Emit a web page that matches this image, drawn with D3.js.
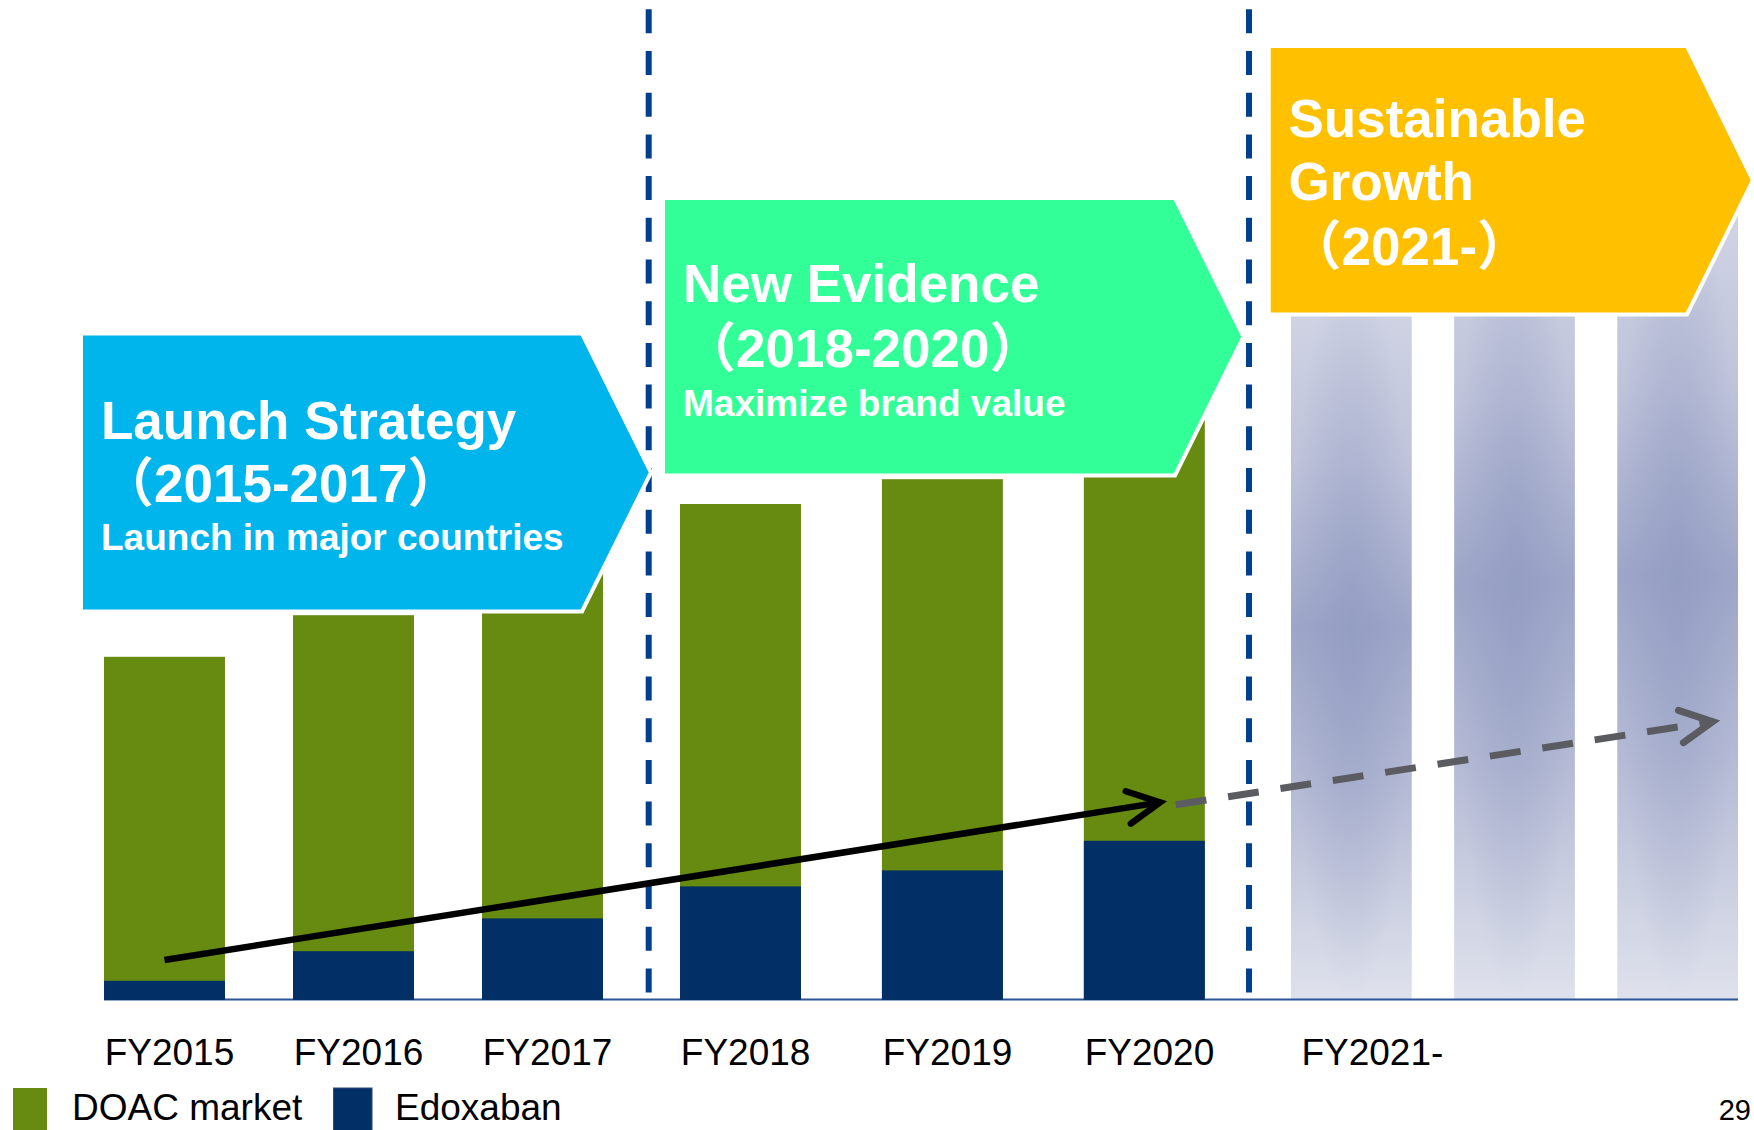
<!DOCTYPE html>
<html>
<head>
<meta charset="utf-8">
<script src="https://cdn.jsdelivr.net/npm/d3@7"></script>
<style>
  body { margin: 0; background: #fff; }
  text { font-family: "Liberation Sans", Arial, "Noto Sans CJK JP", sans-serif; }
</style>
</head>
<body>
<div id="chart"></div>
<script>
// actual years, split by strategy phase
const launchYears = ["FY2015", "FY2016", "FY2017"];
const evidenceYears = ["FY2018", "FY2019", "FY2020"];
const years = launchYears.concat(evidenceYears);
const doacMarket = [42.9, 48.1, 55.5, 62.0, 65.1, 75.0];
const edoxaban = [2.4, 6.1, 10.2, 14.2, 16.2, 19.9];

// outlook (ghost bars)
const futureSlots = ["FY2021", "FY2022", "FY2023"];
const futureOutlook = [93, 104, 106];
const futureLabel = "FY2021-";

// trend arrows, pos = index along the year axis
const trendActual = [{ pos: 0, value: 5 }, { pos: 5.08, value: 24.7 }];
const trendOutlook = [{ pos: 5.16, value: 24.4 }, { pos: 7.9, value: 34.8 }];

const phaseTitles = ["Launch Strategy", "New Evidence", "Sustainable"];
const phaseLines2 = ["\uFF082015-2017\uFF09", "\uFF082018-2020\uFF09", "Growth"];
const phaseLines3 = ["Launch in major countries", "Maximize brand value", "\uFF082021-\uFF09"];

const legendItems = ["DOAC market", "Edoxaban"];
const pageNumber = "29";

const width = 1754, height = 1130;
const green = "#678a11", navy = "#022f66";

const svg = d3.select("#chart").append("svg")
    .attr("width", width)
    .attr("height", height);

const xLaunch = d3.scaleBand()
    .domain(launchYears)
    .range([104, 603])
    .paddingInner(0.36)
    .paddingOuter(0);

const xEvidence = d3.scaleBand()
    .domain(evidenceYears)
    .range([680, 1205])
    .paddingInner(0.4)
    .paddingOuter(0);

const xPos = yr => launchYears.includes(yr) ? xLaunch(yr) : xEvidence(yr);
const bw = xLaunch.bandwidth();

const xFuture = d3.scaleBand()
    .domain(futureSlots)
    .range([1291, 1738])
    .paddingInner(0.26)
    .paddingOuter(0);

const y = d3.scaleLinear()
    .domain([0, 100])
    .range([1000, 200]);

const xTrend = d3.scaleLinear()
    .domain([0, years.length - 1])
    .range([xPos(years[0]) + bw / 2, xPos(years[years.length - 1]) + bw / 2]);

// gradients for the outlook bars
const defs = svg.append("defs");
const lg = defs.append("linearGradient")
    .attr("id", "futureFill")
    .attr("x1", 0).attr("y1", 0).attr("x2", 0).attr("y2", 1);
[[0, "#d6d9e7"], [0.28, "#bec3da"], [0.5, "#9ea6c8"], [0.72, "#b5bbd5"], [1, "#dfe2ec"]]
    .forEach(s => lg.append("stop").attr("offset", s[0]).attr("stop-color", s[1]));
const rg = defs.append("radialGradient")
    .attr("id", "futureGlow")
    .attr("cx", 0.5).attr("cy", 0.5).attr("r", 0.5);
rg.append("stop").attr("offset", 0).attr("stop-color", "#8c96bf").attr("stop-opacity", 0.55);
rg.append("stop").attr("offset", 1).attr("stop-color", "#8c96bf").attr("stop-opacity", 0);

const futureData = futureSlots.map((s, i) => ({ slot: s, value: futureOutlook[i] }));
["url(#futureFill)", "url(#futureGlow)"].forEach(fill => {
    svg.append("g").selectAll("rect")
        .data(futureData)
      .enter().append("rect")
        .attr("x", d => xFuture(d.slot))
        .attr("y", d => y(d.value))
        .attr("width", xFuture.bandwidth())
        .attr("height", d => y(0) - y(d.value))
        .attr("fill", fill);
});

// baseline
svg.append("line")
    .attr("x1", xPos(years[0]))
    .attr("x2", xFuture.range()[1])
    .attr("y1", y(0) - 0.5)
    .attr("y2", y(0) - 0.5)
    .attr("stroke", "#2c5597")
    .attr("stroke-width", 2);

const barData = years.map((yr, i) => ({ year: yr, market: doacMarket[i], edox: edoxaban[i] }));

svg.append("g").selectAll("rect")
    .data(barData)
  .enter().append("rect")
    .attr("x", d => xPos(d.year))
    .attr("y", d => y(d.market))
    .attr("width", bw)
    .attr("height", d => y(0) - y(d.market))
    .attr("fill", green);

svg.append("g").selectAll("rect")
    .data(barData)
  .enter().append("rect")
    .attr("x", d => xPos(d.year))
    .attr("y", d => y(d.edox))
    .attr("width", bw)
    .attr("height", d => y(0) - y(d.edox))
    .attr("fill", navy);

// x labels
[xLaunch, xEvidence].forEach(sc => {
    const ax = svg.append("g")
        .attr("transform", "translate(5," + y(0) + ")")
        .call(d3.axisBottom(sc).tickSize(0).tickPadding(39));
    ax.select(".domain").remove();
    ax.selectAll("text")
        .style("font-family", '"Liberation Sans", Arial, sans-serif')
        .style("font-size", "37px")
        .attr("fill", "#000");
});

svg.append("text")
    .attr("x", xFuture(futureSlots[0]) + xFuture.bandwidth() / 2 + 21)
    .attr("y", 1065)
    .attr("text-anchor", "middle")
    .style("font-size", "37px")
    .text(futureLabel);

// phase dividers
[648.7, 1249].forEach(px => {
    svg.append("line")
        .attr("x1", px).attr("x2", px)
        .attr("y1", 9.3).attr("y2", y(0))
        .attr("stroke", "#003f8e")
        .attr("stroke-width", 6)
        .attr("stroke-dasharray", "24 17.7");
});

// phase boxes
const boxes = [
    { left: 81, top: 333.5, right: 582, tip: 651, bottom: 611.5, fill: "#00b4ec",
      tx: 101, lines: [438.5, 502, 550], sizes: [53, 53, 37] },
    { left: 663, top: 198, right: 1175, tip: 1243.6, bottom: 475.5, fill: "#33ff99",
      tx: 683, lines: [302, 367, 415.7], sizes: [53, 53, 37] },
    { left: 1268.7, top: 46, right: 1687, tip: 1753, bottom: 314.5, fill: "#ffc000",
      tx: 1288.5, lines: [136.7, 200, 265], sizes: [53, 53, 53] }
];

boxes.forEach((b, i) => {
    const mid = (b.top + b.bottom) / 2;
    svg.append("path")
        .attr("d", "M" + b.left + "," + b.top + "L" + b.right + "," + b.top + "L" + b.tip + "," + mid +
            "L" + b.right + "," + b.bottom + "L" + b.left + "," + b.bottom + "Z")
        .attr("fill", b.fill)
        .attr("stroke", "#fff")
        .attr("stroke-width", 4)
        .attr("stroke-linejoin", "miter");
    const texts = [phaseTitles[i], phaseLines2[i], phaseLines3[i]];
    texts.forEach((t, j) => {
        svg.append("text")
            .attr("x", b.tx)
            .attr("y", b.lines[j])
            .attr("fill", "#fff")
            .style("font-weight", "bold")
            .style("font-size", b.sizes[j] + "px")
            .text(t);
    });
});

// trend arrows
const trendLine = d3.line()
    .x(d => xTrend(d.pos))
    .y(d => y(d.value));

function arrowHead(pts, color, w) {
    const a = pts[pts.length - 2], b = pts[pts.length - 1];
    const x0 = xTrend(a.pos), y0 = y(a.value), x1 = xTrend(b.pos), y1 = y(b.value);
    const ang = Math.atan2(y1 - y0, x1 - x0);
    const len = 36, spread = 27 * Math.PI / 180;
    const p1 = [x1 - len * Math.cos(ang - spread), y1 - len * Math.sin(ang - spread)];
    const p2 = [x1 - len * Math.cos(ang + spread), y1 - len * Math.sin(ang + spread)];
    svg.append("path")
        .attr("d", "M" + p1 + "L" + x1 + "," + y1 + "L" + p2)
        .attr("fill", "none")
        .attr("stroke", color)
        .attr("stroke-width", w)
        .attr("stroke-linecap", "round")
        .attr("stroke-linejoin", "miter");
}

svg.append("path")
    .datum(trendActual)
    .attr("d", trendLine)
    .attr("fill", "none")
    .attr("stroke", "#000")
    .attr("stroke-width", 6.5);
arrowHead(trendActual, "#000", 6.5);

svg.append("path")
    .datum(trendOutlook)
    .attr("d", trendLine)
    .attr("fill", "none")
    .attr("stroke", "#5a5c61")
    .attr("stroke-width", 7)
    .attr("stroke-dasharray", "31 22");
arrowHead(trendOutlook, "#5a5c61", 7);

// legend
const legend = svg.append("g");
const legendX = [13, 333.5];
const legendColors = [green, navy];
legendItems.forEach((name, i) => {
    legend.append("rect")
        .attr("x", legendX[i])
        .attr("y", 1088)
        .attr("width", i === 0 ? 34 : 38.5)
        .attr("height", 50)
        .attr("fill", legendColors[i])
        .attr("stroke", i === 0 ? "none" : "#2a4a80")
        .attr("stroke-width", 1);
    legend.append("text")
        .attr("x", legendX[i] + (i === 0 ? 59 : 61.5))
        .attr("y", 1120)
        .style("font-size", "37px")
        .text(name);
});

svg.append("text")
    .attr("x", 1751)
    .attr("y", 1120)
    .attr("text-anchor", "end")
    .style("font-size", "29px")
    .text(pageNumber);
</script>
</body>
</html>
